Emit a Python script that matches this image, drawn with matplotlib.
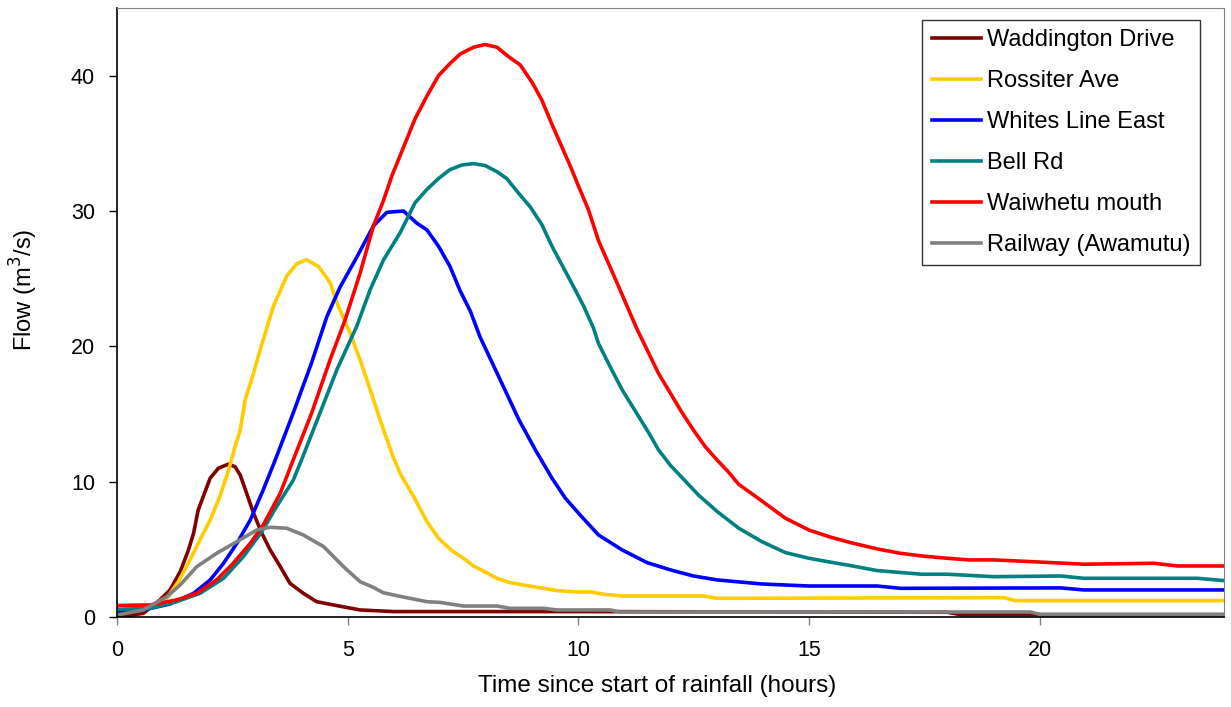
import matplotlib
matplotlib.use("Agg")
import matplotlib.pyplot as plt

plt.rcParams['font.family'] = ['Liberation Sans', 'DejaVu Sans']

# ---- data (time in hours, flow in m3/s) ----
wad_t = [0, 0.57, 0.93, 1.15, 1.37, 1.55, 1.66, 1.76, 1.87, 2.02, 2.2, 2.42, 2.56, 2.67,
         2.81, 2.96, 3.14, 3.32, 3.54, 3.75, 4.04, 4.33, 4.77, 5.27, 6.0, 10.0, 18.0, 18.3, 24]
wad_v = [0, 0.27, 1.26, 2.0, 3.35, 4.96, 6.19, 7.9, 8.9, 10.26, 11.0, 11.3, 11.1, 10.5,
         9.15, 7.67, 6.19, 4.96, 3.72, 2.49, 1.75, 1.13, 0.84, 0.52, 0.4, 0.4, 0.35, 0.17, 0.17]

ros_t = [0, 0.72, 1.08, 1.33, 1.58, 1.8, 2.02, 2.23, 2.42, 2.56, 2.67, 2.78, 2.95, 3.10,
         3.39, 3.68, 3.9, 4.11, 4.37, 4.62, 4.8, 5.05, 5.27, 5.49, 5.70, 5.99, 6.14, 6.43,
         6.72, 6.97, 7.26, 7.48, 7.73, 8.24, 8.52, 9.03, 9.54, 9.97, 10.26, 10.55, 10.95,
         12.72, 13.01, 19.23, 19.48, 24]
ros_v = [0.27, 0.64, 1.38, 2.61, 4.2, 5.7, 7.17, 8.9, 10.87, 12.6, 13.8, 16.05, 17.9, 19.7,
         22.95, 25.2, 26.1, 26.4, 25.9, 24.7, 22.95, 21.0, 19.0, 16.8, 14.6, 11.8, 10.6, 8.9,
         7.05, 5.82, 4.9, 4.42, 3.77, 2.86, 2.54, 2.24, 1.95, 1.85, 1.85, 1.68, 1.55,
         1.55, 1.38, 1.43, 1.21, 1.21]

whi_t = [0, 0.57, 1.15, 1.66, 2.02, 2.31, 2.6, 2.89, 3.17, 3.43, 3.82, 4.22, 4.55, 4.84,
         5.2, 5.56, 5.85, 6.21, 6.5, 6.72, 6.97, 7.22, 7.44, 7.66, 7.87, 8.27,
         8.71, 9.07, 9.43, 9.72, 10.04, 10.44, 10.95, 11.49, 12.0, 12.5, 13.01, 13.98, 15.0,
         16.48, 16.98, 20.46, 20.96, 24]
whi_v = [0.39, 0.52, 0.96, 1.75, 2.74, 3.97, 5.45, 7.17, 9.39, 11.6, 15.07, 18.8, 22.2, 24.4,
         26.6, 28.9, 29.9, 30.0, 29.1, 28.6, 27.4, 25.9, 24.1, 22.6, 20.7, 17.8,
         14.6, 12.35, 10.26, 8.78, 7.54, 6.06, 4.96, 4.02, 3.48, 3.03, 2.74, 2.44, 2.29,
         2.29, 2.12, 2.15, 2.0, 2.0]

bel_t = [0, 0.72, 1.29, 1.8, 2.31, 2.74, 3.14, 3.46, 3.82, 4.0, 4.4, 4.77, 5.2, 5.49,
         5.78, 6.14, 6.46, 6.72, 6.97, 7.22, 7.48, 7.73, 7.98, 8.24, 8.45, 8.71, 8.96,
         9.21, 9.43, 9.68, 9.93, 10.12, 10.33, 10.44, 10.69, 10.95, 11.24, 11.53, 11.74, 12.0,
         12.25, 12.61, 13.01, 13.48, 13.98, 14.49, 15.0, 15.47, 15.9, 16.48, 17.45, 18.0,
         19.01, 20.46, 20.96, 23.42, 24]
bel_v = [0.57, 0.64, 1.13, 1.75, 2.86, 4.46, 6.31, 8.16, 10.1, 11.6, 15.07, 18.3, 21.5, 24.2,
         26.4, 28.4, 30.6, 31.6, 32.4, 33.06, 33.4, 33.5, 33.36, 32.9, 32.4, 31.3,
         30.3, 29.0, 27.4, 25.8, 24.2, 22.95, 21.35, 20.2, 18.5, 16.8, 15.2, 13.6, 12.35, 11.2,
         10.3, 9.0, 7.8, 6.56, 5.57, 4.76, 4.34, 4.05, 3.8, 3.43, 3.16, 3.16,
         2.98, 3.03, 2.86, 2.86, 2.69]

wai_t = [0, 0.72, 1.29, 1.73, 2.16, 2.52, 2.89, 3.17, 3.54, 3.82, 4.22, 4.62, 4.95,
         5.27, 5.56, 5.78, 5.96, 6.21, 6.46, 6.72, 6.97, 7.22, 7.44, 7.73, 7.98, 8.24, 8.49,
         8.74, 9.0, 9.21, 9.43, 9.65, 9.83, 10.01, 10.22, 10.44, 10.62, 10.84, 11.06, 11.27,
         11.74, 12.25, 12.5, 12.75, 13.01, 13.26, 13.48, 13.95, 14.49, 15.0, 15.47, 15.9,
         16.48, 16.98, 17.45, 18.0, 18.47, 19.01, 19.95, 20.96, 22.48, 22.99, 24]
wai_v = [0.85, 0.89, 1.26, 1.75, 2.74, 3.97, 5.45, 6.8, 9.15, 11.6, 15.07, 19.0, 22.0,
         25.4, 28.9, 30.8, 32.6, 34.7, 36.8, 38.5, 40.0, 40.9, 41.6, 42.1, 42.3, 42.1, 41.4,
         40.8, 39.5, 38.2, 36.4, 34.7, 33.3, 31.8, 30.1, 27.8, 26.4, 24.7, 22.95, 21.3,
         18.0, 15.1, 13.8, 12.6, 11.6, 10.7, 9.8, 8.65, 7.3, 6.43, 5.9, 5.5,
         5.03, 4.71, 4.51, 4.34, 4.22, 4.22, 4.07, 3.9, 3.97, 3.77, 3.77]

rai_t = [0, 0.57, 1.08, 1.37, 1.73, 2.16, 2.6, 3.03, 3.32, 3.68, 4.04, 4.48, 4.91, 5.27,
         5.55, 5.77, 6.1, 6.72, 7.0, 7.51, 8.24, 8.52, 9.25, 9.54, 10.69, 10.91, 19.8, 20.0, 24]
rai_v = [0.15, 0.52, 1.5, 2.37, 3.72, 4.71, 5.57, 6.43, 6.63, 6.56, 6.06, 5.2, 3.72, 2.61,
         2.2, 1.8, 1.55, 1.13, 1.08, 0.81, 0.81, 0.64, 0.64, 0.52, 0.52, 0.37, 0.37, 0.2, 0.2]

series_names = ["Waddington Drive", "Rossiter Ave", "Whites Line East", "Bell Rd",
                "Waiwhetu mouth", "Railway (Awamutu)"]
series_colors = ["#800000", "#FFCC00", "#0000FF", "#008080", "#FF0000", "#808080"]
x_ticks = [0, 5, 10, 15, 20]
y_ticks = [0, 10, 20, 30, 40]

fig = plt.figure(figsize=(12.31, 7.07), dpi=100)
ax = fig.add_axes([117/1231, 1 - 617/707, (1224-117)/1231, (617-8)/707])

data = [(wad_t, wad_v), (ros_t, ros_v), (whi_t, whi_v), (bel_t, bel_v),
        (wai_t, wai_v), (rai_t, rai_v)]
for (t, v), name, col in zip(data, series_names, series_colors):
    ax.plot(t, v, color=col, lw=2.6, label=name, solid_joinstyle='round')

ax.set_xlim(0, 24)
ax.set_ylim(0, 45)
ax.set_xticks(x_ticks)
ax.set_yticks(y_ticks)
ax.tick_params(axis='both', labelsize=15.5, length=5.8, width=1, direction='out')
ax.tick_params(axis='x', colors='#808080', labelcolor='black', pad=11)
ax.tick_params(axis='y', pad=10)
for s in ['top', 'right']:
    ax.spines[s].set_color('#808080')
for s in ['left', 'bottom']:
    ax.spines[s].set_color('black')
    ax.spines[s].set_linewidth(1.2)

ax.set_xlabel("Time since start of rainfall (hours)", fontsize=17.5, labelpad=10)
ax.xaxis.label.set_x((657 - 117) / 1107)
ax.set_ylabel("Flow (m$^3$/s)", fontsize=17, labelpad=22)
ax.yaxis.label.set_y((617 - 290) / 609)

leg = ax.legend(loc='upper right', bbox_to_anchor=((1200-117)/(1224-117), (617-20)/(617-8)),
                borderaxespad=0, fontsize=17, frameon=True, fancybox=False,
                edgecolor='black', handlelength=2.1, handletextpad=0.25,
                labelspacing=0.8, borderpad=0.4)
leg.get_frame().set_linewidth(1.0)

fig.savefig("out.png", dpi=100)
